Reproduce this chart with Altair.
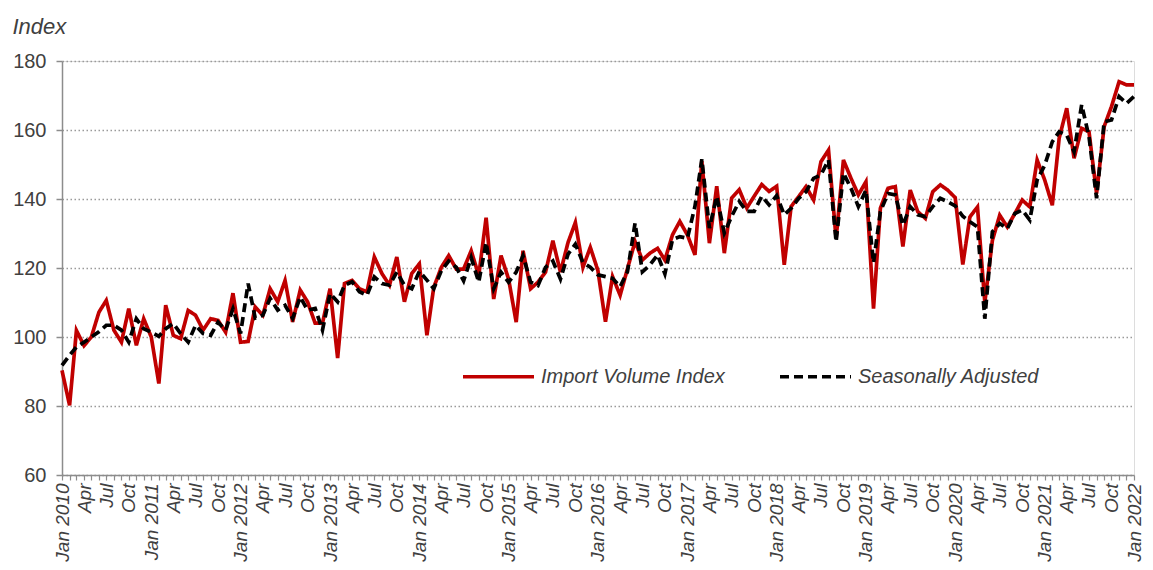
import altair as alt
import pandas as pd

series_names = ["Import Volume Index", "Seasonally Adjusted"]

import_volume = [
    90.3, 80.2, 101.9, 97.5, 100.0, 107.2, 110.6, 102.0, 98.5, 108.2, 97.6, 105.3,
    100.0, 86.5, 109.2, 100.5, 99.5, 107.7, 106.3, 102.0, 105.3, 104.8, 101.4, 112.7,
    98.5, 98.7, 108.7, 106.3, 114.0, 110.2, 116.4, 104.4, 113.6, 110.2, 104.0, 104.0,
    114.0, 93.9, 115.5, 116.4, 114.0, 113.1, 123.2, 118.4, 115.0, 123.2, 110.2, 118.4,
    121.2, 100.5, 114.4, 120.2, 123.6, 119.7, 119.7, 125.0, 117.8, 134.6, 111.0, 123.6,
    116.8, 104.3, 125.0, 114.0, 115.9, 118.8, 127.9, 118.8, 127.4, 133.2, 120.2, 126.0,
    119.3, 104.4, 117.5, 112.1, 119.8, 127.7, 122.3, 124.3, 125.7, 122.3, 129.6, 133.5,
    129.6, 123.8, 151.0, 127.2, 143.7, 124.3, 140.3, 142.7, 137.4, 140.8, 144.2, 142.2,
    143.7, 120.9, 137.8, 140.7, 143.6, 139.7, 150.8, 154.2, 128.5, 151.3, 146.0, 141.2,
    145.0, 108.2, 137.3, 143.1, 143.6, 126.2, 142.6, 136.3, 134.4, 142.1, 144.1, 142.6,
    140.4, 121.0, 134.8, 137.7, 110.0, 128.0, 135.3, 131.9, 135.8, 139.7, 137.7, 151.3,
    145.5, 138.2, 157.6, 166.3, 151.8, 160.5, 159.5, 141.6, 161.0, 166.8, 174.0, 173.1,
    173.1,
]

seasonally_adjusted = [
    91.8, 94.7, 97.1, 98.5, 100.0, 101.5, 103.4, 103.4, 102.0, 98.5, 105.3, 102.4,
    101.4, 100.2, 102.4, 103.9, 101.0, 98.5, 103.4, 101.0, 100.5, 104.3, 102.0, 108.2,
    101.0, 115.5, 105.5, 106.3, 111.2, 107.8, 109.2, 105.4, 111.6, 107.8, 108.3, 102.0,
    112.6, 110.2, 115.0, 116.0, 113.1, 112.1, 117.4, 115.5, 115.0, 118.8, 115.0, 114.0,
    119.0, 116.5, 114.0, 119.2, 122.0, 120.2, 116.3, 123.0, 115.9, 127.4, 114.0, 118.8,
    115.9, 118.8, 123.6, 115.9, 114.9, 120.2, 122.0, 116.8, 124.0, 126.9, 121.6, 120.2,
    118.0, 117.5, 117.0, 114.6, 118.9, 133.0, 118.9, 120.9, 123.8, 118.3, 128.2, 129.1,
    128.6, 137.9, 151.5, 131.6, 140.8, 130.1, 135.0, 139.3, 136.4, 136.4, 140.8, 138.3,
    141.0, 135.4, 137.3, 140.2, 142.1, 146.0, 147.0, 151.3, 127.6, 147.5, 143.1, 137.8,
    142.6, 121.5, 136.3, 141.6, 141.2, 132.4, 137.8, 135.4, 134.9, 137.8, 140.2, 139.2,
    138.0, 135.0, 133.4, 131.9, 105.3, 130.5, 132.9, 131.4, 135.8, 136.8, 133.9, 145.5,
    149.8, 156.6, 159.5, 158.5, 153.7, 167.3, 158.1, 140.2, 162.4, 162.9, 169.7, 167.7,
    169.7,
]

y_ticks = [60, 80, 100, 120, 140, 160, 180]

months = pd.date_range("2010-01-01", periods=len(import_volume), freq="MS").strftime("%Y-%m-%d").tolist()

df = pd.concat([
    pd.DataFrame({"date": months, "value": import_volume, "series": series_names[0]}),
    pd.DataFrame({"date": months, "value": seasonally_adjusted, "series": series_names[1]}),
])

text_color = "#404040"
axis_color = "#8c8c8c"
font = "Liberation Sans"

label_expr = (
    "utcmonth(datum.value) == 0 ? 'Jan ' + utcyear(datum.value) : "
    "(utcmonth(datum.value) % 3 == 0 ? utcFormat(datum.value, '%b') : '')"
)

legend_opts = dict(
    title=None,
    orient="none",
    legendX=399,
    legendY=278,
    direction="horizontal",
    symbolType="stroke",
    symbolSize=5041,
    symbolStrokeWidth=3.7,
    labelFont=font,
    labelFontSize=20,
    labelFontStyle="italic",
    labelColor=text_color,
    labelOffset=5,
    labelLimit=0,
    columnPadding=47,
)

chart = alt.Chart(df).mark_line(strokeWidth=3.7).encode(
    x=alt.X(
        "date:T",
        scale=alt.Scale(type="utc", nice=False),
        axis=alt.Axis(
            title=None,
            tickCount={"interval": "month", "step": 1},
            labelExpr=label_expr,
            labelAngle=270,
            labelOverlap=False,
            labelFlush=False,
            labelBound=False,
            labelFont=font,
            labelFontSize=19,
            labelFontStyle="italic",
            labelColor=text_color,
            labelPadding=3,
            tickSize=5,
            tickColor=axis_color,
            tickWidth=1.2,
            domainColor=axis_color,
            domainWidth=1.5,
            grid=False,
        ),
    ),
    y=alt.Y(
        "value:Q",
        scale=alt.Scale(domain=[60, 180], nice=False, zero=False),
        axis=alt.Axis(
            values=y_ticks,
            title="Index",
            titleAngle=0,
            titleAlign="left",
            titleBaseline="alphabetic",
            titleX=-50,
            titleY=-28,
            titleFont=font,
            titleFontSize=22,
            titleFontStyle="italic",
            titleFontWeight="normal",
            titleColor=text_color,
            labelFont=font,
            labelFontSize=20,
            labelColor=text_color,
            labelPadding=10,
            tickSize=6,
            tickColor=axis_color,
            tickWidth=1.5,
            domainColor=axis_color,
            domainWidth=1.5,
            grid=True,
            gridColor="#9a9a9a",
            gridDash=[1.5, 2.5],
            gridWidth=1.3,
        ),
    ),
    color=alt.Color(
        "series:N",
        scale=alt.Scale(domain=series_names, range=["#C00000", "#000000"]),
        legend=alt.Legend(**legend_opts),
    ),
    strokeDash=alt.StrokeDash(
        "series:N",
        scale=alt.Scale(domain=series_names, range=[[1, 0], [9, 5]]),
        legend=alt.Legend(**legend_opts),
    ),
).properties(
    width=1072,
    height=414,
    autosize=alt.AutoSizeParams(type="none"),
    padding={"left": 54, "top": 53, "right": 11, "bottom": 87},
).configure_view(stroke=None).configure(background="white")

chart.save("out.html", embed_options={"renderer": "svg", "actions": False})
